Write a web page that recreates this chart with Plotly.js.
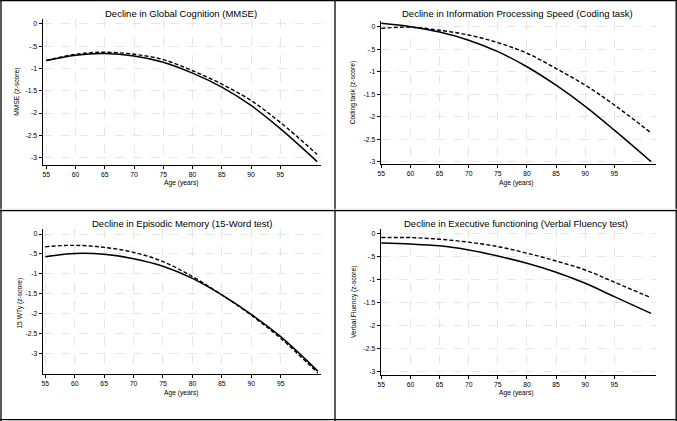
<!DOCTYPE html>
<html>
<head>
<meta charset="utf-8">
<script src="https://cdn.plot.ly/plotly-3.0.1.min.js"></script>
<style>
html,body{margin:0;padding:0;background:#fff;}
#chart{width:677px;height:421px;}
</style>
</head>
<body>
<div id="chart"></div>
<script>
// ---- Data ----
const ages = [55, 60, 65, 70, 75, 80, 85, 90, 95, 101.3];

const mmseSolid   = [-0.82, -0.70, -0.665, -0.72, -0.86, -1.105, -1.42, -1.83, -2.35, -3.09];
const mmseDashed  = [-0.82, -0.68, -0.635, -0.68, -0.80, -1.05, -1.35, -1.72, -2.21, -2.93];

const codingSolid  = [0.074, 0.0, -0.12, -0.30, -0.555, -0.89, -1.30, -1.77, -2.30, -3.0];
const codingDashed = [-0.037, -0.01, -0.08, -0.185, -0.355, -0.59, -0.93, -1.30, -1.74, -2.36];

const memorySolid  = [-0.57, -0.49, -0.51, -0.62, -0.81, -1.115, -1.53, -2.02, -2.58, -3.445];
const memoryDashed = [-0.32, -0.285, -0.335, -0.46, -0.695, -1.07, -1.53, -2.04, -2.62, -3.49];

const fluencySolid  = [-0.20, -0.22, -0.26, -0.35, -0.48, -0.64, -0.835, -1.075, -1.365, -1.73];
const fluencyDashed = [-0.08, -0.08, -0.116, -0.18, -0.276, -0.42, -0.59, -0.785, -1.05, -1.39];

const xTickVals = [55, 60, 65, 70, 75, 80, 85, 90, 95];
const xTickText = ['55', '60', '65', '70', '75', '80', '85', '90', '95'];
const yTickVals = [0, -0.5, -1, -1.5, -2, -2.5, -3];
const yTickText = ['0', '-.5', '-1', '-1.5', '-2', '-2.5', '-3'];

const panelTitles = [
  'Decline in Global Cognition (MMSE)',
  'Decline in Information Processing Speed (Coding task)',
  'Decline in Episodic Memory (15-Word test)',
  'Decline in Executive functioning (Verbal Fluency test)'
];
const yTitles = ['MMSE (z-score)', 'Coding task (z-score)', '15 WTy (z-score)', 'Verbal Fluency (z-score)'];
const xTitle = 'Age (years)';

// ---- Figure ----
const W = 677, H = 421;
const px = v => v / W;
const py = v => 1 - v / H;
const FONT = 'Liberation Sans, Arial, Helvetica, sans-serif';

const seriesSets = [
  [mmseSolid, mmseDashed],
  [codingSolid, codingDashed],
  [memorySolid, memoryDashed],
  [fluencySolid, fluencyDashed]
];

const traces = [];
seriesSets.forEach((s, i) => {
  const xa = i === 0 ? 'x' : 'x' + (i + 1);
  const ya = i === 0 ? 'y' : 'y' + (i + 1);
  traces.push({x: ages, y: s[0], xaxis: xa, yaxis: ya, mode: 'lines',
    line: {color: '#000', width: 1.5, shape: 'spline'}, showlegend: false, hoverinfo: 'skip'});
  traces.push({x: ages, y: s[1], xaxis: xa, yaxis: ya, mode: 'lines',
    line: {color: '#000', width: 1.4, dash: '4px,2.2px', shape: 'spline'}, showlegend: false, hoverinfo: 'skip'});
});

// plot areas in pixels: [left, right, top, bottom], x-range, y-range
const panels = [
  {x0: 42.5, x1: 321,   y0: 19.3, y1: 164.7, xr: [54.35, 101.96], yr: [-3.16, 0.105]},
  {x0: 380.7, x1: 656.3, y0: 20.7, y1: 164.3, xr: [54.9, 102.2],  yr: [-3.058, 0.133]},
  {x0: 42.7, x1: 320.7, y0: 229.3, y1: 374.3, xr: [54.56, 101.8], yr: [-3.525, 0.118]},
  {x0: 380.7, x1: 656.3, y0: 229.3, y1: 375,  xr: [54.9, 102.2],  yr: [-3.07, 0.10]}
];

const layout = {
  width: W, height: H,
  margin: {l: 0, r: 0, t: 0, b: 0},
  paper_bgcolor: '#fff', plot_bgcolor: '#fff',
  font: {family: FONT, color: '#000', size: 6.8},
  showlegend: false,
  annotations: [],
  shapes: []
};

panels.forEach((p, i) => {
  const xk = i === 0 ? 'xaxis' : 'xaxis' + (i + 1);
  const yk = i === 0 ? 'yaxis' : 'yaxis' + (i + 1);
  const ya = i === 0 ? 'y' : 'y' + (i + 1);
  const xa = i === 0 ? 'x' : 'x' + (i + 1);
  layout[xk] = {
    domain: [px(p.x0), px(p.x1)], anchor: ya, range: p.xr,
    tickmode: 'array', tickvals: xTickVals, ticktext: xTickText,
    ticks: 'outside', ticklen: 3, tickwidth: 1, tickcolor: '#000',
    showline: true, linecolor: '#000', linewidth: 1,
    showgrid: true, gridcolor: '#dcdcdc', gridwidth: 0.7, griddash: 'dash',
    zeroline: false, tickfont: {size: 6.8, family: FONT, color: '#000'}, fixedrange: true
  };
  layout[yk] = {
    domain: [py(p.y1), py(p.y0)], anchor: xa, range: p.yr,
    tickmode: 'array', tickvals: yTickVals, ticktext: yTickText,
    ticks: 'outside', ticklen: 3, tickwidth: 1, tickcolor: '#000',
    showline: true, linecolor: '#000', linewidth: 1,
    showgrid: true, gridcolor: '#dcdcdc', gridwidth: 0.7, griddash: 'dash',
    zeroline: false, tickfont: {size: 6.8, family: FONT, color: '#000'}, fixedrange: true
  };
});

// panel titles
const titlePos = [[181, 13.3], [517, 13.3], [181.7, 223.3], [516.3, 223.3]];
titlePos.forEach((t, i) => {
  layout.annotations.push({text: panelTitles[i], xref: 'paper', yref: 'paper',
    x: px(t[0]), y: py(t[1]), xanchor: 'center', yanchor: 'middle', showarrow: false,
    font: {size: 9.5, family: FONT, color: '#000'}});
});
// x axis titles
const xtPos = [[181.7, 182.7], [516.8, 182.7], [181.7, 392.7], [516.8, 392.7]];
xtPos.forEach(t => {
  layout.annotations.push({text: xTitle, xref: 'paper', yref: 'paper',
    x: px(t[0]), y: py(t[1]), xanchor: 'center', yanchor: 'middle', showarrow: false,
    font: {size: 6.7, family: FONT, color: '#000'}});
});
// y axis titles
const ytPos = [[17.5, 92.3], [353.3, 92], [20.3, 303.3], [353.3, 301.7]];
ytPos.forEach((t, i) => {
  layout.annotations.push({text: yTitles[i], xref: 'paper', yref: 'paper',
    x: px(t[0]), y: py(t[1]), xanchor: 'center', yanchor: 'middle', showarrow: false,
    textangle: -90, font: {size: 6.7, family: FONT, color: '#000'}});
});

// panel frames
const ln = (x0, y0, x1, y1, c, w) => ({type: 'line', xref: 'paper', yref: 'paper',
  x0: px(x0), y0: py(y0), x1: px(x1), y1: py(y1), line: {color: c, width: w}});
layout.shapes.push(ln(0, 0.6, 677, 0.6, '#000', 1.3));
layout.shapes.push(ln(0, 419.6, 677, 419.6, '#000', 1.3));
layout.shapes.push(ln(1, 0, 1, 421, '#000', 1.3));
layout.shapes.push(ln(676.2, 0, 676.2, 421, '#000', 1.3));
layout.shapes.push(ln(335, 0, 335, 421, '#000', 1.3));
layout.shapes.push(ln(0, 210.7, 677, 210.7, '#000', 1.3));
layout.shapes.push(ln(0, 209.2, 677, 209.2, '#d8d8d8', 0.8));

Plotly.newPlot('chart', traces, layout, {displayModeBar: false, staticPlot: true});
</script>
</body>
</html>
